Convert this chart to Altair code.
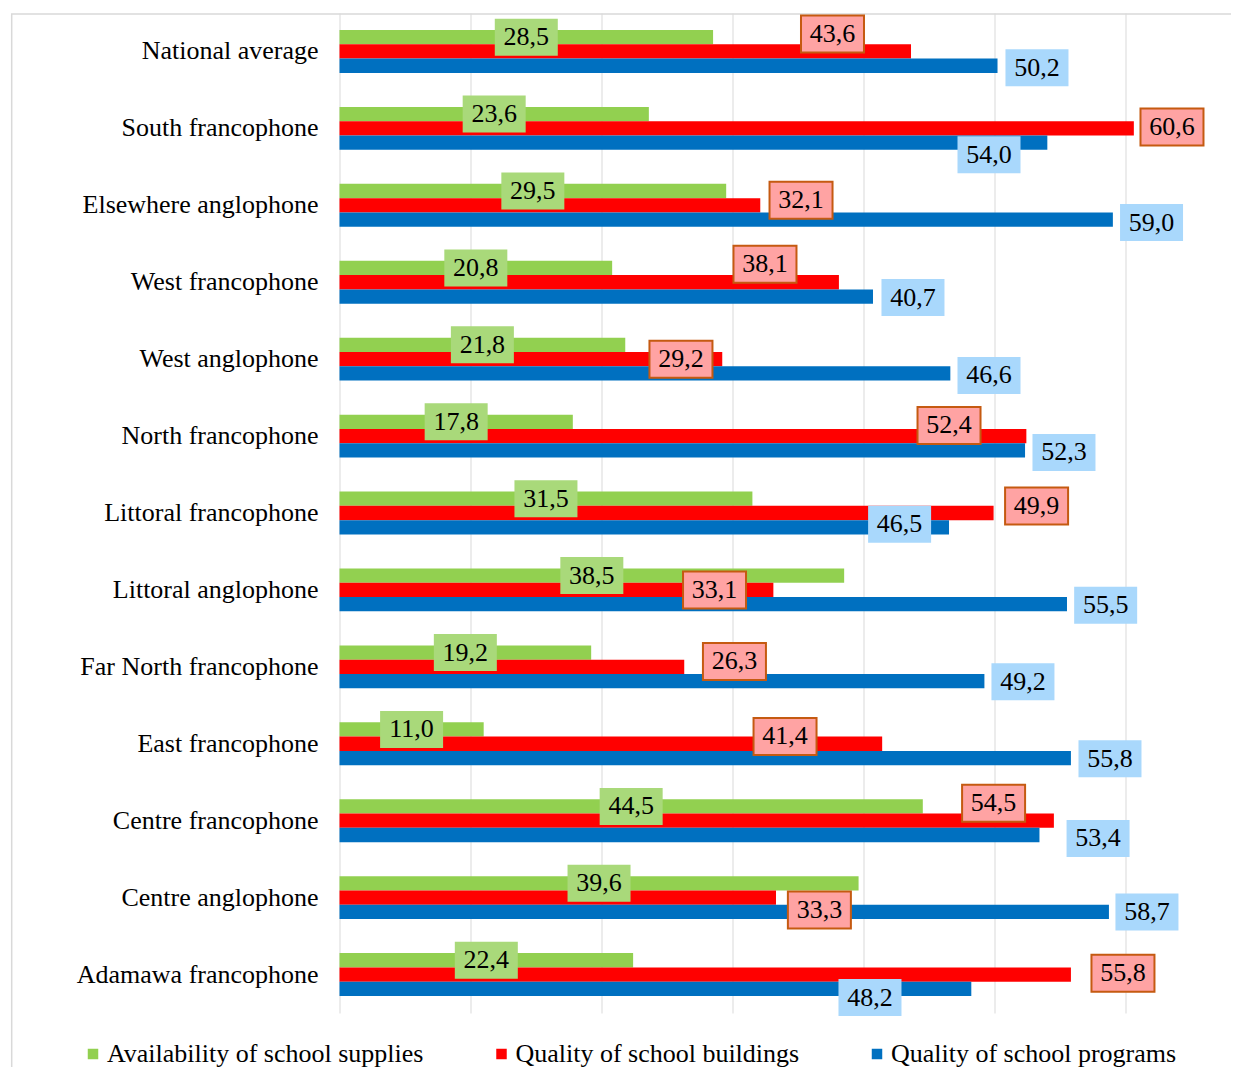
import altair as alt
import pandas as pd

# ---------------- data ----------------
categories = [
    "National average", "South francophone", "Elsewhere anglophone",
    "West francophone", "West anglophone", "North francophone",
    "Littoral francophone", "Littoral anglophone", "Far North francophone",
    "East francophone", "Centre francophone", "Centre anglophone",
    "Adamawa francophone",
]
series = [
    "Availability of school supplies",
    "Quality of school buildings",
    "Quality of school programs",
]
supplies = [28.5, 23.6, 29.5, 20.8, 21.8, 17.8, 31.5, 38.5, 19.2, 11.0, 44.5, 39.6, 22.4]
buildings = [43.6, 60.6, 32.1, 38.1, 29.2, 52.4, 49.9, 33.1, 26.3, 41.4, 54.5, 33.3, 55.8]
programs = [50.2, 54.0, 59.0, 40.7, 46.6, 52.3, 46.5, 55.5, 49.2, 55.8, 53.4, 58.7, 48.2]

# manual data-label nudges (as in the source chart): dx in data units from the
# bar end, dy in pixels from the bar centre; supplies labels sit mid-bar
buildings_label_dx = [-5.99, 2.91, 3.11, -5.64, -3.15, -5.9, 3.28, -4.49, 3.83, -7.41, -4.6, 3.31, 3.97]
buildings_label_dy = [-17.5, -1.5, -5, -18, 0, -10.7, -7, 0, -5.4, -7.3, -17.5, 12.3, -1.3]
programs_label_dx = [3.01, -4.45, 2.95, 3.05, 2.95, 2.97, -3.77, 2.95, 2.94, 2.98, 4.47, 2.9, -7.73]
programs_label_dy = [2, 12, 3, 1, 2, 2, -3, 1, 0.7, 0.6, 3.5, 0, 8.7]

# ---------------- styles / layout ----------------
bar_colors = ["#92d050", "#ff0000", "#0070c0"]
box_fill = ["#a9d97a", "#ffa3a3", "#a9d8fc"]
box_stroke = ["transparent", "#c55a11", "transparent"]
FONT = "Liberation Serif"

X_MAX = 68
PX_PER_UNIT = 13.108
W = X_MAX * PX_PER_UNIT
H = 1000
N = len(categories)
STEP = H / N
BAR_PX = 14.3
PAD_IN = 1 - 3 * BAR_PX / STEP
PAD_OUT = PAD_IN / 2

# ---------------- tables ----------------
values = [supplies, buildings, programs]
bar_rows = []
for j, s in enumerate(series):
    for i, c in enumerate(categories):
        bar_rows.append({"category": c, "series": s, "value": values[j][i]})
bars_df = pd.DataFrame(bar_rows)

label_rows = []
for j, s in enumerate(series):
    for i, c in enumerate(categories):
        v = values[j][i]
        if j == 0:
            lx, dy = v / 2, 0.0
        elif j == 1:
            lx, dy = v + buildings_label_dx[i], buildings_label_dy[i]
        else:
            lx, dy = v + programs_label_dx[i], programs_label_dy[i]
        sub = (j - 1) * BAR_PX
        label_rows.append({
            "series": s,
            "lx": lx,
            "ly": i + 0.5 + (sub + dy) / STEP,
            "text": f"{v:.1f}".replace(".", ","),
            "fill": box_fill[j],
            "stroke": box_stroke[j],
        })
labels_df = pd.DataFrame(label_rows)

x_scale = alt.Scale(domain=[0, X_MAX], nice=False, zero=True)
x_axis = alt.Axis(values=[0, 10, 20, 30, 40, 50, 60], labels=False, ticks=False,
                  domain=False, title=None, grid=True, gridColor="#d9d9d9", gridWidth=1)

frame = alt.Chart(pd.DataFrame({"f": [0]})).mark_rect(
    fill="transparent", stroke="#d9d9d9", strokeWidth=1.5
).encode(
    x=alt.value(-327.8), x2=alt.value(2000), y=alt.value(1), y2=alt.value(3000)
)

bars = alt.Chart(bars_df).mark_bar().encode(
    y=alt.Y("category:N", sort=categories,
            scale=alt.Scale(paddingInner=PAD_IN, paddingOuter=PAD_OUT),
            axis=alt.Axis(title=None, ticks=False, domain=False, labelFont=FONT,
                          labelFontSize=26, labelColor="black", labelPadding=21.5,
                          labelLimit=500)),
    yOffset=alt.YOffset("series:N", sort=series,
                        scale=alt.Scale(paddingInner=0, paddingOuter=0)),
    x=alt.X("value:Q", scale=x_scale, axis=x_axis),
    color=alt.Color("series:N", sort=series,
                    scale=alt.Scale(domain=series, range=bar_colors),
                    legend=alt.Legend(orient="none", legendX=-259.5, legendY=1028,
                                      direction="horizontal", title=None,
                                      symbolType="square", symbolSize=110,
                                      symbolStrokeWidth=0, labelFont=FONT,
                                      labelFontSize=26, labelColor="black",
                                      labelOffset=1, columnPadding=64.5, padding=0,
                                      labelLimit=500)),
)

ly_scale = alt.Scale(domain=[0, N], reverse=True, nice=False, zero=False)

boxes = alt.Chart(labels_df).mark_rect(
    xOffset=-31.5, x2Offset=31.5, yOffset=-18.5, y2Offset=18.5, strokeWidth=2
).encode(
    x=alt.X("lx:Q", scale=x_scale, axis=x_axis),
    x2="lx:Q",
    y=alt.Y("ly:Q", scale=ly_scale, axis=None),
    y2="ly:Q",
    fill=alt.Fill("fill:N", scale=None),
    stroke=alt.Stroke("stroke:N", scale=None),
)

texts = alt.Chart(labels_df).mark_text(
    font=FONT, fontSize=26, color="black", align="center", baseline="middle"
).encode(
    x=alt.X("lx:Q", scale=x_scale, axis=x_axis),
    y=alt.Y("ly:Q", scale=ly_scale, axis=None),
    text="text:N",
)

chart = alt.layer(frame, bars, boxes, texts).resolve_scale(
    y="independent", fill="independent", stroke="independent"
).properties(
    width=W, height=H,
    autosize=alt.AutoSizeParams(type="none"),
    padding={"left": 331.5, "top": 5, "right": 0, "bottom": 54},
).configure_view(stroke=None)

chart.save("out.html", embed_options={"renderer": "svg", "actions": False})
